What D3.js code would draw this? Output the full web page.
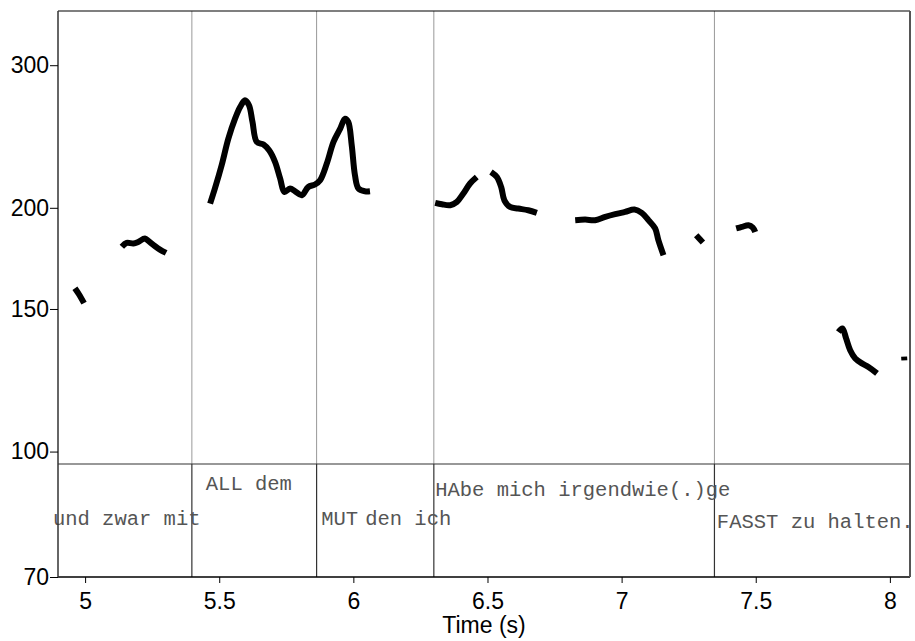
<!DOCTYPE html>
<html>
<head>
<meta charset="utf-8">
<script src="https://d3js.org/d3.v7.min.js"></script>
<style>
body { margin: 0; background: white; }
.axis text { font-family: "Liberation Sans", Arial, sans-serif; font-size: 23px; fill: #000; }
.axis line { stroke: #000; }
.tier { font-family: "Liberation Mono", "Courier New", monospace; font-size: 20.5px; fill: #555; }
</style>
</head>
<body>
<div id="chart"></div>
<script>
// axis ticks
const yTicks = [70, 100, 150, 200, 300];
const xTicks = [5, 5.5, 6, 6.5, 7, 7.5, 8];

// interval boundaries of the text tier (s)
const boundaries = [5.398, 5.863, 6.300, 7.346];

// tier labels: text, start time (s), level inside the tier (0 = bottom, 1 = top)
const labelText  = ["und zwar mit", "ALL dem", "MUT", "den ich", "HAbe mich irgendwie(.)ge", "FASST zu halten."];
const labelTime  = [4.880, 5.450, 5.880, 6.044, 6.305, 7.355];
const labelLevel = [0.52, 0.83, 0.52, 0.52, 0.78, 0.50];

// pitch contour pieces [time (s), F0 (Hz)]
const seg1 = [[4.962, 159.1], [4.977, 156.4], [4.996, 152.5]];
const seg2 = [[5.137, 179.0], [5.155, 181.0], [5.180, 180.7], [5.198, 181.5], [5.223, 183.3],
              [5.236, 182.0], [5.261, 179.3], [5.279, 177.6], [5.302, 175.9]];
const seg3 = [[5.466, 202.4], [5.484, 211.3], [5.509, 225.7], [5.534, 243.5], [5.559, 257.7],
              [5.578, 266.4], [5.596, 271.5], [5.611, 267.7], [5.624, 255.3], [5.640, 241.2],
              [5.665, 239.4], [5.686, 235.5], [5.708, 227.9], [5.727, 217.4], [5.743, 209.2],
              [5.764, 211.3], [5.783, 209.6], [5.808, 207.3], [5.832, 212.2], [5.857, 213.7],
              [5.876, 216.3], [5.901, 226.8], [5.926, 241.2], [5.951, 250.5], [5.969, 257.7],
              [5.981, 255.3], [5.994, 238.9], [6.006, 219.4], [6.019, 211.3], [6.044, 209.6],
              [6.062, 209.6]];
const seg4 = [[6.305, 202.8], [6.330, 202.0], [6.361, 201.5], [6.386, 203.4], [6.410, 208.3],
              [6.435, 214.3], [6.460, 218.3]];
const seg5 = [[6.513, 221.5], [6.535, 218.3], [6.551, 212.2], [6.563, 204.3], [6.584, 200.5],
              [6.615, 199.6], [6.652, 198.6], [6.684, 197.1]];
const seg6 = [[6.827, 193.1], [6.864, 193.4], [6.901, 193.1], [6.939, 194.9], [6.976, 196.4],
              [7.013, 197.7], [7.048, 199.0], [7.075, 197.1], [7.100, 193.1], [7.125, 188.6],
              [7.137, 182.4], [7.156, 174.8]];
const seg7 = [[7.278, 185.0], [7.303, 181.2]];
const seg8 = [[7.427, 188.6], [7.448, 189.4], [7.473, 190.3], [7.489, 189.1], [7.498, 186.7]];
const seg9 = [[7.808, 140.5], [7.823, 141.9], [7.837, 137.9], [7.852, 133.4], [7.871, 130.3],
              [7.896, 128.5], [7.920, 127.2], [7.952, 124.9]];
const seg10 = [[8.053, 131.0], [8.054, 129.6]];

const contours = [seg1, seg2, seg3, seg4, seg5, seg6, seg7, seg8, seg9, seg10];

const W = 915, H = 641;
const plotLeft = 58, plotRight = 910, plotTop = 11, plotBottom = 577, tierTop = 464;

const svg = d3.select("#chart").append("svg")
  .attr("width", W).attr("height", H);

const x = d3.scaleLinear().domain([4.899, 8.075]).range([plotLeft, plotRight]);
const y = d3.scaleLog().domain([70, 350]).range([plotBottom, plotTop]);
const tierY = d3.scaleLinear().domain([0, 1]).range([plotBottom, tierTop]);

// boundary lines: light in pitch area, darker in tier
svg.append("g").selectAll("line")
  .data(boundaries).enter().append("line")
  .attr("x1", d => x(d)).attr("x2", d => x(d))
  .attr("y1", plotTop).attr("y2", tierTop)
  .attr("stroke", "#999").attr("stroke-width", 1);
svg.append("g").selectAll("line")
  .data(boundaries).enter().append("line")
  .attr("x1", d => x(d)).attr("x2", d => x(d))
  .attr("y1", tierTop).attr("y2", plotBottom)
  .attr("stroke", "#333").attr("stroke-width", 1.2);

// tier separator
svg.append("line")
  .attr("x1", plotLeft).attr("x2", plotRight)
  .attr("y1", tierTop).attr("y2", tierTop)
  .attr("stroke", "#333").attr("stroke-width", 1.2);

// tier labels
svg.append("g").selectAll("text")
  .data(labelText).enter().append("text")
  .attr("class", "tier")
  .attr("x", (d, i) => x(labelTime[i]))
  .attr("y", (d, i) => tierY(labelLevel[i]))
  .attr("dy", "0.35em")
  .text(d => d);

// pitch contour
const line = d3.line()
  .x(d => x(d[0]))
  .y(d => y(d[1]))
  .curve(d3.curveCatmullRom);

svg.append("g").selectAll("path")
  .data(contours).enter().append("path")
  .attr("fill", "none")
  .attr("stroke", "#000")
  .attr("stroke-width", 6)
  .attr("stroke-linejoin", "round")
  .attr("d", line);

// frame
svg.append("line").attr("x1", plotLeft).attr("x2", plotRight).attr("y1", plotTop).attr("y2", plotTop)
  .attr("stroke", "#000").attr("stroke-width", 1.2);
svg.append("line").attr("x1", plotLeft).attr("x2", plotRight).attr("y1", plotBottom).attr("y2", plotBottom)
  .attr("stroke", "#000").attr("stroke-width", 1.5);
svg.append("line").attr("x1", plotLeft).attr("x2", plotLeft).attr("y1", plotTop).attr("y2", plotBottom)
  .attr("stroke", "#333").attr("stroke-width", 1.5);
svg.append("line").attr("x1", plotRight).attr("x2", plotRight).attr("y1", plotTop).attr("y2", plotBottom)
  .attr("stroke", "#555").attr("stroke-width", 2);

// axes
const yAxis = svg.append("g").attr("class", "axis")
  .attr("transform", `translate(${plotLeft},0)`)
  .call(d3.axisLeft(y).tickValues(yTicks).tickFormat(d3.format("d")).tickSize(8).tickPadding(1));
yAxis.select(".domain").remove();

const xAxis = svg.append("g").attr("class", "axis")
  .attr("transform", `translate(0,${plotBottom})`)
  .call(d3.axisBottom(x).tickValues(xTicks).tickFormat(d => d).tickSize(6).tickPadding(10));
xAxis.select(".domain").remove();

svg.append("text")
  .attr("x", (plotLeft + plotRight) / 2)
  .attr("y", 633)
  .attr("text-anchor", "middle")
  .style("font-family", "'Liberation Sans', Arial, sans-serif")
  .style("font-size", "23px")
  .text("Time (s)");
</script>
</body>
</html>
